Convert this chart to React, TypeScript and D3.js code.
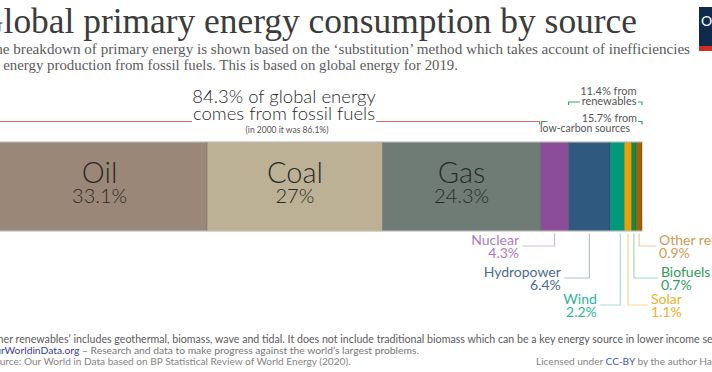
import React from 'react';
import * as d3 from 'd3';

// shares of global primary energy, 2019 (substitution method)
const sources = ['Oil', 'Coal', 'Gas', 'Nuclear', 'Hydropower', 'Wind', 'Solar', 'Biofuels', 'Other renewables'];
const shares = [33.1, 27, 24.3, 4.3, 6.4, 2.2, 1.1, 0.7, 0.9];
const shareLabels = ['33.1%', '27%', '24.3%', '4.3%', '6.4%', '2.2%', '1.1%', '0.7%', '0.9%'];
const barColors = ['#9a8777', '#bcb194', '#6f7c75', '#8b4c99', '#30597f', '#009a7b', '#e7a202', '#12894a', '#9d6502'];
const labelColors = ['#2a2a2a', '#2a2a2a', '#2a2a2a', '#a97dc0', '#4c6b92', '#2db597', '#f0ae2a', '#2e9c5c', '#cf9a55'];
const leaderColors = ['', '', '', '#d4b9e0', '#b2c0d0', '#a3ddd0', '#f6d590', '#a6d6b8', '#ebcaa6'];

const fossilShare = '84.3%';
const fossil2000 = '86.1%';
const renewablesShare = '11.4%';
const lowCarbonShare = '15.7%';

const W = 712;
const H = 372;

// which callouts sit left / right of their segment, top to bottom
const leftCallouts = ['Nuclear', 'Hydropower', 'Wind'];
const rightCallouts = ['Other renewables', 'Biofuels', 'Solar'];
const levelY = [245, 277, 304];
const leftLen = [32, 25, 20];
const rightLen = [17, 24, 20];

const App = () => {
  const x = d3.scaleLinear().domain([0, 100]).range([-8, 642]);
  const barTop = 142.5;
  const barBottom = 230.5;

  const ends = d3.cumsum(shares);
  const segs = sources.map((s, i) => ({
    name: s,
    start: ends[i] - shares[i],
    end: ends[i],
    i,
  }));

  const fossilEnd = ends[2];
  const nuclearEnd = ends[3];
  const total = ends[ends.length - 1];

  const sans = 'Lato, "Noto Sans", sans-serif';
  const serif = '"Liberation Serif", "DejaVu Serif", serif';

  const fossilCx = 284;
  const redY = 121.5;

  return (
    <svg width={W} height={H} style={{ position: 'absolute', left: 0, top: 0, background: '#fff' }}>
      {/* header */}
      <text x={-22} y={33} fontFamily={serif} fontSize={35} fill="#3b3b3b" textLength={659} lengthAdjust="spacingAndGlyphs">
        Global primary energy consumption by source
      </text>
      <text x={-14} y={54} fontFamily={serif} fontSize={15} fill="#5b5b5b" textLength={704} lengthAdjust="spacingAndGlyphs">
        The breakdown of primary energy is shown based on the ‘substitution’ method which takes account of inefficiencies
      </text>
      <text x={-12} y={70} fontFamily={serif} fontSize={15} fill="#5b5b5b" textLength={470} lengthAdjust="spacingAndGlyphs">
        in energy production from fossil fuels. This is based on global energy for 2019.
      </text>

      {/* logo */}
      <rect x={699} y={7} width={20} height={40} fill="#102a4c" />
      <rect x={699} y={46} width={20} height={5} fill="#d42b21" />
      <text x={701} y={26} fontFamily={sans} fontSize={14} fill="#fff">O</text>

      {/* fossil fuels annotation */}
      <text x={fossilCx} y={103} textAnchor="middle" fontFamily={sans} fontWeight={300} fontSize={18.5} fill="#2a2a2a">
        {fossilShare} of global energy
      </text>
      <text x={fossilCx} y={120} textAnchor="middle" fontFamily={sans} fontWeight={300} fontSize={18.5} fill="#2a2a2a">
        comes from fossil fuels
      </text>
      <text x={fossilCx + 3} y={133} textAnchor="middle" fontFamily={sans} fontSize={8.5} fill="#555">
        (in 2000 it was {fossil2000})
      </text>
      <path d={`M${x(0)},${redY + 3}V${redY}H${fossilCx - 92}`} fill="none" stroke="#d46a6a" strokeWidth={1.2} />
      <path d={`M${fossilCx + 92},${redY}H${x(fossilEnd) - 1}V${redY + 3}`} fill="none" stroke="#d46a6a" strokeWidth={1.2} />

      {/* low-carbon annotation */}
      <text x={637} y={122} textAnchor="end" fontFamily={sans} fontSize={10.8} fill="#555">{lowCarbonShare} from</text>
      <text x={630} y={132} textAnchor="end" fontFamily={sans} fontSize={10.5} fill="#555">low-carbon sources</text>
      <path d={`M${x(fossilEnd) + 1},${redY + 3}V${redY}H${x(fossilEnd) + 7}`} fill="none" stroke="#3aa76d" strokeWidth={1.2} />
      <path d={`M638,${redY}H${x(total)}V${redY + 3}`} fill="none" stroke="#3aa76d" strokeWidth={1.2} />

      {/* renewables annotation */}
      <text x={636.5} y={95} textAnchor="end" fontFamily={sans} fontSize={11} fill="#555">{renewablesShare} from</text>
      <text x={636.5} y={105} textAnchor="end" fontFamily={sans} fontSize={11} fill="#555">renewables</text>
      <path d={`M${x(nuclearEnd)},105V102H580`} fill="none" stroke="#3aa76d" strokeWidth={1.2} />
      <path d={`M638,102H${x(total)}V105`} fill="none" stroke="#3aa76d" strokeWidth={1.2} />

      {/* bar */}
      <rect x={x(0)} y={barTop - 1} width={x(total) - x(0)} height={barBottom - barTop + 2} fill="none" stroke="#d6d6d6" />
      {segs.map((d) => (
        <rect
          key={d.name}
          x={x(d.start)}
          y={barTop}
          width={x(d.end) - x(d.start)}
          height={barBottom - barTop}
          fill={barColors[d.i]}
          stroke="rgba(0,0,0,0.25)"
          strokeWidth={0.6}
        />
      ))}

      {/* inside labels */}
      {segs.slice(0, 3).map((d) => {
        const cx = (x(d.start) + x(d.end)) / 2;
        return (
          <g key={d.name}>
            <text x={cx} y={183} textAnchor="middle" fontFamily={sans} fontWeight={300} fontSize={29} fill={labelColors[d.i]}>
              {d.name}
            </text>
            <text x={cx} y={203} textAnchor="middle" fontFamily={sans} fontWeight={300} fontSize={20} fill={labelColors[d.i]}>
              {shareLabels[d.i]}
            </text>
          </g>
        );
      })}

      {/* callouts */}
      {segs.slice(3).map((d) => {
        const cx = (x(d.start) + x(d.end)) / 2;
        const li = leftCallouts.indexOf(d.name);
        const ri = rightCallouts.indexOf(d.name);
        const isLeft = li >= 0;
        const lvl = isLeft ? li : ri;
        const ty = levelY[lvl];
        const ly = ty + 1;
        const lx = d.name === 'Wind' ? cx + 3 : cx;
        const hx = isLeft ? lx - leftLen[lvl] : lx + rightLen[lvl];
        const tx = isLeft ? hx - 3.5 : hx + 3;
        return (
          <g key={d.name}>
            <path d={`M${lx},${barBottom + 3}V${ly}H${hx}`} fill="none" stroke={leaderColors[d.i]} strokeWidth={1.2} />
            <text x={tx} y={ty} textAnchor={isLeft ? 'end' : 'start'} fontFamily={sans} fontSize={14} fill={labelColors[d.i]}>
              {d.name}
            </text>
            <text x={tx} y={ty + 12.5} textAnchor={isLeft ? 'end' : 'start'} fontFamily={sans} fontSize={14} fill={labelColors[d.i]}>
              {shareLabels[d.i]}
            </text>
          </g>
        );
      })}

      {/* footer */}
      <text x={-17} y={343} fontFamily={sans} fontSize={10.65} fill="#5b5b5b">
        ‘Other renewables’ includes geothermal, biomass, wave and tidal. It does not include traditional biomass which can be a key energy source in lower income settings.
      </text>
      <text x={-13} y={353.5} fontFamily={sans} fontSize={10.3} fill="#777">
        <tspan fill="#3c3c9a">OurWorldinData.org</tspan> – Research and data to make progress against the world’s largest problems.
      </text>
      <text x={-11.5} y={364.5} fontFamily={sans} fontSize={10.1} fill="#858585">
        Source: Our World in Data based on BP Statistical Review of World Energy (2020).
      </text>
      <text x={536} y={364.5} fontFamily={sans} fontSize={10.1} fill="#858585">
        Licensed under <tspan fill="#3c5cb0">CC-BY</tspan> by the author Hannah Ritchie.
      </text>
    </svg>
  );
};

export default App;
